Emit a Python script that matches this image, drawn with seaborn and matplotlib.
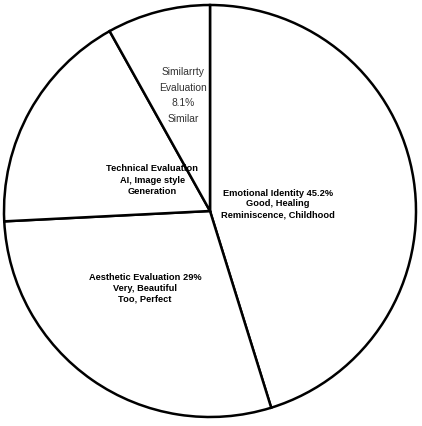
import matplotlib
matplotlib.use("Agg")
import matplotlib.pyplot as plt
import seaborn as sns

sns.set_theme(style="white")
plt.rcParams['font.family'] = ['Liberation Sans', 'DejaVu Sans']

categories = ["Emotional Identity", "Aesthetic Evaluation", "Technical Evaluation", "Similarity Evaluation"]
values = [45.2, 29.0, 17.7, 8.1]
labels = [
    "Emotional Identity 45.2%\nGood, Healing\nReminiscence, Childhood",
    "Aesthetic Evaluation 29%\nVery, Beautiful\nToo, Perfect",
    "Technical Evaluation\nAI, Image style\nGeneration",
    "Similarrty\nEvaluation\n8.1%\nSimilar",
]
label_pos = [(0.33, 0.04), (-0.315, -0.37), (-0.28, 0.155), (-0.13, 0.565)]
label_spacing = [1.25, 1.25, 1.4, 1.7]

W, H = 422, 427
fig = plt.figure(figsize=(W / 100, H / 100), dpi=100)
cx, cy, r = 210, 212, 206
ax = fig.add_axes([(cx - r) / W, (H - cy - r) / H, 2 * r / W, 2 * r / H])
ax.pie(values, startangle=90, counterclock=False, colors=["white"] * len(values),
       wedgeprops=dict(edgecolor="black", linewidth=1.8))
ax.set_xlim(-1, 1)
ax.set_ylim(-1, 1)
ax.set_aspect("auto")
ax.axis("off")

for i, (lab, (x, y), ls) in enumerate(zip(labels, label_pos, label_spacing)):
    if i == 3:
        ax.text(x, y, lab, ha="center", va="center", fontsize=7.4, color="#333333",
                linespacing=ls)
    else:
        ax.text(x, y, lab, ha="center", va="center", fontsize=6.7, fontweight="bold",
                color="black", linespacing=ls)

fig.savefig("out.png", dpi=100, facecolor="white")
